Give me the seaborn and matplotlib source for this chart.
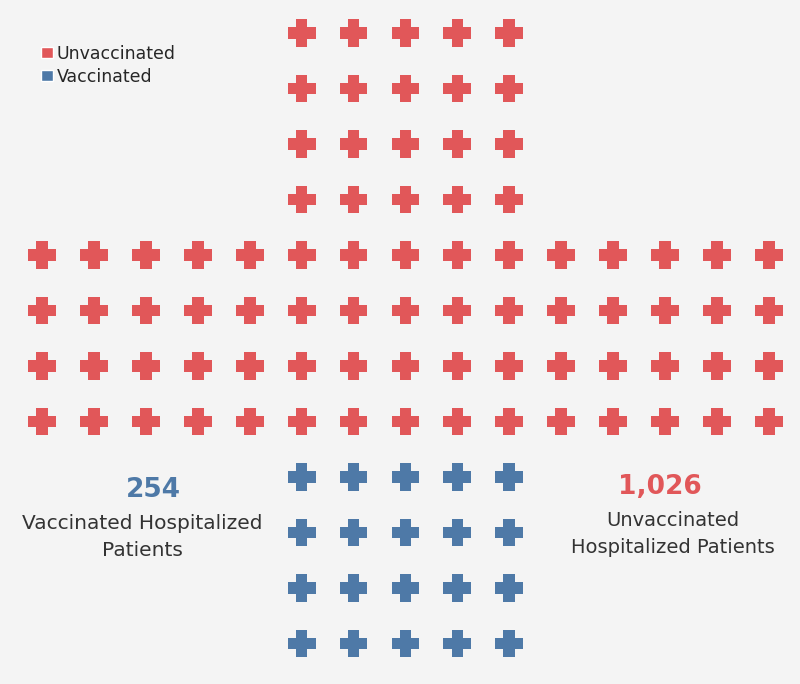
import pandas as pd
import seaborn as sns
import matplotlib.pyplot as plt
from matplotlib.patches import Patch
from matplotlib.path import Path

# Totals shown in the labels
vaccinated_total = 254
unvaccinated_total = 1026

# Icon grid: each arm of the cross is a block of icons
arm_status = ['Unvaccinated', 'Unvaccinated', 'Vaccinated']
arm_rows = [[0, 1, 2, 3], [4, 5, 6, 7], [8, 9, 10, 11]]
arm_cols = [[5, 6, 7, 8, 9], list(range(15)), [5, 6, 7, 8, 9]]

palette = {'Unvaccinated': '#e15759', 'Vaccinated': '#4e79a7'}

# Build the icon table
records = []
for status, rows, cols in zip(arm_status, arm_rows, arm_cols):
    for r in rows:
        for c in cols:
            records.append({'col': c, 'row': r, 'status': status})
df = pd.DataFrame(records)

# chunky plus marker (arms thicker than the built-in 'P')
a = 0.21
plus_verts = [(-a, -0.5), (a, -0.5), (a, -a), (0.5, -a), (0.5, a), (a, a), (a, 0.5),
              (-a, 0.5), (-a, a), (-0.5, a), (-0.5, -a), (-a, -a), (-a, -0.5)]
plus = Path(plus_verts, closed=True)

sns.set_style('white')
plt.rcParams['font.family'] = ['DejaVu Sans']

fig = plt.figure(figsize=(8, 6.84), dpi=100, facecolor='#f4f4f4')
ax = fig.add_axes([0, 0, 1, 1])
ax.set_facecolor('#f4f4f4')

sns.scatterplot(data=df, x='col', y='row', hue='status', palette=palette,
                marker=plus, s=400, linewidth=0, legend=False, ax=ax)

ax.set_xlim(-0.81, 14.6)
ax.set_ylim(11.73, -0.595)
ax.set_axis_off()

# Legend
handles = [Patch(facecolor=palette[k], label=k) for k in ['Unvaccinated', 'Vaccinated']]
fig.legend(handles=handles, loc='upper left', bbox_to_anchor=(0.043, 0.945),
           frameon=False, fontsize=12.5, handlelength=0.65, handleheight=0.65,
           handletextpad=0.25, labelspacing=0.3, borderaxespad=0)

# Labels
fig.text(153 / 800, 1 - 490 / 684, f'{vaccinated_total:,}', color=palette['Vaccinated'],
         fontsize=19, fontweight='bold', ha='center', va='center')
fig.text(142 / 800, 1 - 537 / 684, 'Vaccinated Hospitalized\nPatients', color='#333333',
         fontsize=14.5, ha='center', va='center', linespacing=1.55)
fig.text(660 / 800, 1 - 487 / 684, f'{unvaccinated_total:,}', color=palette['Unvaccinated'],
         fontsize=19, fontweight='bold', ha='center', va='center')
fig.text(673 / 800, 1 - 534 / 684, 'Unvaccinated\nHospitalized Patients', color='#333333',
         fontsize=14, ha='center', va='center', linespacing=1.55)

fig.savefig('out.png', dpi=100, facecolor=fig.get_facecolor())
